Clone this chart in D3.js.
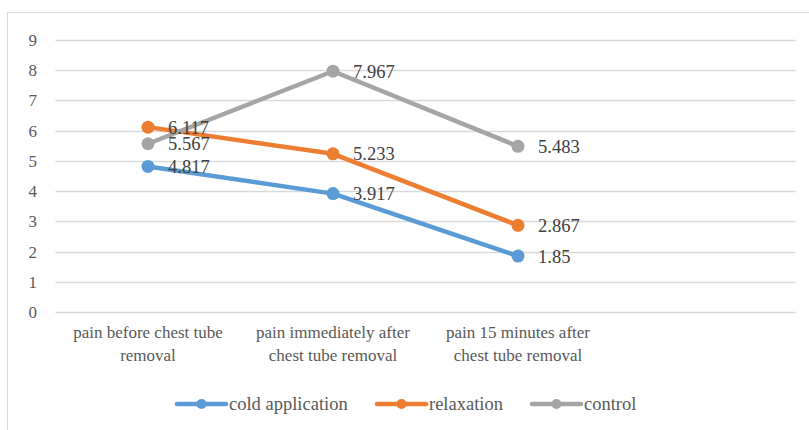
<!DOCTYPE html>
<html>
<head>
<meta charset="utf-8">
<script src="https://cdn.jsdelivr.net/npm/d3@7"></script>
<style>
  body { margin: 0; background: #fff; }
  text { font-family: 'Liberation Serif', 'DejaVu Serif', 'Times New Roman', Times, serif; }
</style>
</head>
<body>
<svg id="chart" width="809" height="430"></svg>
<script>
// chart data
const categories = [
  ["pain before chest tube", "removal"],
  ["pain immediately after", "chest tube removal"],
  ["pain 15 minutes after", "chest tube removal"],
  [] // empty slot kept by the source chart
];
const seriesNames = ["cold application", "relaxation", "control"];
const coldValues = [4.817, 3.917, 1.85];
const relaxValues = [6.117, 5.233, 2.867];
const controlValues = [5.567, 7.967, 5.483];
const yTicks = [0, 1, 2, 3, 4, 5, 6, 7, 8, 9];
const colors = ["#5B9BD5", "#ED7D31", "#A5A5A5"];

const series = [coldValues, relaxValues, controlValues];
const serif = "'Liberation Serif', 'DejaVu Serif', 'Times New Roman', Times, serif";

var svg = d3.select("#chart").attr("font-family", serif);
const plot = {left: 55.5, right: 795.5, top: 40, bottom: 312};

// outer chart frame
svg.append("rect")
  .attr("x", 7.5).attr("y", 12.5)
  .attr("width", 830).attr("height", 440)
  .attr("fill", "none").attr("stroke", "#d9d9d9");

var x = d3.scaleBand()
  .domain(d3.range(categories.length))
  .range([plot.left, plot.right]);
var y = d3.scaleLinear().domain([0, 9]).range([plot.bottom, plot.top]);

// gridlines
svg.append("g").selectAll("line").data(yTicks).join("line")
  .attr("x1", plot.left).attr("x2", plot.right)
  .attr("y1", d => Math.round(y(d)) + 0.5).attr("y2", d => Math.round(y(d)) + 0.5)
  .attr("stroke", "#d9d9d9").attr("stroke-width", 1.3);

// y tick labels
svg.append("g").selectAll("text").data(yTicks).join("text")
  .attr("x", 37).attr("y", d => y(d))
  .attr("dy", "0.35em")
  .attr("text-anchor", "end")
  .attr("fill", "#595959")
  .style("font-size", "17px")
  .text(d => d);

// category labels
var cat = svg.append("g").selectAll("text").data(categories).join("text")
  .attr("text-anchor", "middle")
  .attr("fill", "#595959")
  .style("font-size", "17px");
cat.selectAll("tspan").data((d, i) => d.map(t => ({t: t, i: i}))).join("tspan")
  .attr("x", d => x(d.i) + x.bandwidth() / 2)
  .attr("y", (d, j) => 338 + j * 23)
  .text(d => d.t);

var cx = i => x(i) + x.bandwidth() / 2;
var line = d3.line()
  .x((d, i) => cx(i))
  .y(d => y(d));

// lines, markers, labels
series.forEach(function(vals, s){
  var g = svg.append("g");
  g.append("path")
    .datum(vals)
    .attr("fill", "none")
    .attr("stroke", colors[s])
    .attr("stroke-width", 4.5)
    .attr("stroke-linejoin", "round")
    .attr("stroke-linecap", "round")
    .attr("d", line);
  g.selectAll("circle").data(vals).join("circle")
    .attr("cx", (d, i) => cx(i)).attr("cy", d => y(d))
    .attr("r", 6.5).attr("fill", colors[s]);
});
series.forEach(function(vals, s){
  svg.append("g").selectAll("text").data(vals).join("text")
    .attr("x", (d, i) => cx(i) + 20).attr("y", d => y(d))
    .attr("dy", "0.35em")
    .attr("fill", "#404040")
    .style("font-size", "18.5px")
    .text(d => d);
});

// legend
const legendX = [177, 377, 532];
var leg = svg.append("g").selectAll("g").data(seriesNames).join("g")
  .attr("transform", (d, i) => "translate(" + legendX[i] + ",404)");
leg.append("line")
  .attr("x1", 0).attr("x2", 49)
  .attr("stroke", (d, i) => colors[i])
  .attr("stroke-width", 4.5)
  .attr("stroke-linecap", "round");
leg.append("circle")
  .attr("cx", 24.5).attr("r", 5)
  .attr("fill", (d, i) => colors[i]);
leg.append("text")
  .attr("x", 52).attr("dy", "0.35em")
  .attr("fill", "#595959")
  .style("font-size", "18.5px")
  .text(d => d);
</script>
</body>
</html>
